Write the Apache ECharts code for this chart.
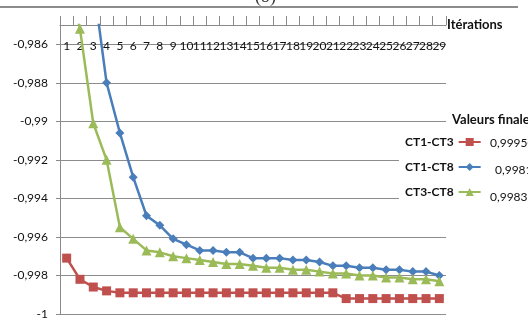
<!DOCTYPE html>
<html>
<head>
<meta charset="utf-8">
<script src="https://cdn.jsdelivr.net/npm/echarts@6/dist/echarts.min.js"></script>
<style>
html,body{margin:0;padding:0;background:#fff;}
#chart{width:528px;height:320px;}
</style>
</head>
<body>
<div id="chart"></div>
<script>
// categories (iterations)
var iterations = ['1','2','3','4','5','6','7','8','9','10','11','12','13','14','15','16','17','18','19','20','21','22','23','24','25','26','27','28','29'];

// series values
var ct1ct3 = [-0.9971, -0.9982, -0.9986, -0.9988, -0.9989, -0.9989, -0.9989, -0.9989, -0.9989, -0.9989,
              -0.9989, -0.9989, -0.9989, -0.9989, -0.9989, -0.9989, -0.9989, -0.9989, -0.9989, -0.9989,
              -0.9989, -0.9992, -0.9992, -0.9992, -0.9992, -0.9992, -0.9992, -0.9992, -0.9992];
var ct1ct8 = [-0.970, -0.978, -0.9828, -0.9880, -0.9906, -0.9929, -0.9949, -0.9954, -0.9961, -0.9964,
              -0.9967, -0.9967, -0.9968, -0.9968, -0.9971, -0.9971, -0.9971, -0.9972, -0.9972, -0.9973,
              -0.9975, -0.9975, -0.9976, -0.9976, -0.9977, -0.9977, -0.9978, -0.9978, -0.9980];
var ct3ct8 = [-0.982, -0.9852, -0.9901, -0.9920, -0.9955, -0.9961, -0.9967, -0.9968, -0.9970, -0.9971,
              -0.9972, -0.9973, -0.9974, -0.9974, -0.9975, -0.9976, -0.9976, -0.9977, -0.9977, -0.9978,
              -0.9979, -0.9979, -0.9980, -0.9980, -0.9981, -0.9981, -0.9982, -0.9982, -0.9983];

var seriesNames = ['CT1-CT3', 'CT1-CT8', 'CT3-CT8'];
var finalValues = ['0,99950', '0,9981', '0,99832'];

var FONT = "Lato,'Open Sans',sans-serif";
var colors = ['#C0504D', '#4A7EBB', '#9BBB59'];

var chart = echarts.init(document.getElementById('chart'));

function fmtY(v){
    return (Math.round(v * 1000) / 1000).toString().replace('.', ',');
}

var option = {
    animation: false,
    color: colors,
    grid: {left: 60, right: 82, top: 25, bottom: 5},
    xAxis: {
        type: 'category',
        position: 'top',
        data: iterations,
        boundaryGap: true,
        name: 'Itérations',
        nameLocation: 'end',
        nameGap: 1,
        nameTextStyle: {fontFamily: FONT, fontSize: 13, fontWeight: 'bold', color: '#111', verticalAlign: 'middle', padding: [2, 0, 0, 0]},
        axisLine: {lineStyle: {color: '#8a8a8a', width: 1}},
        axisTick: {show: true, inside: false, length: 9, alignWithLabel: false, lineStyle: {color: '#8a8a8a'}},
        axisLabel: {inside: true, margin: 15, interval: 0, fontFamily: FONT, fontSize: 12, color: '#111'},
        splitLine: {show: false}
    },
    yAxis: {
        type: 'value',
        min: -1,
        max: -0.985,
        interval: 0.002,
        axisLine: {show: true, lineStyle: {color: '#8a8a8a', width: 1}},
        axisTick: {show: true, length: 4, lineStyle: {color: '#8a8a8a'}},
        axisLabel: {showMaxLabel: false, margin: 12, fontFamily: FONT, fontSize: 12, color: '#111', formatter: fmtY},
        splitLine: {lineStyle: {color: '#8c8c8c', width: 1}}
    },
    legend: {
        orient: 'vertical',
        left: 399,
        top: 132,
        align: 'right',
        data: seriesNames,
        itemWidth: 22,
        itemHeight: 10,
        itemGap: 13,
        backgroundColor: '#fff',
        padding: [4, 60, 6, 6],
        textStyle: {fontFamily: FONT, fontSize: 12, fontWeight: 'bold', color: '#111'}
    },
    graphic: [
        {type: 'line', shape: {x1: 0, y1: 7, x2: 518, y2: 7}, style: {stroke: '#666', lineWidth: 1.5}, z: 10},
        {type: 'text', left: 255, top: -12, style: {text: '(b)', font: '18px serif', fill: '#333'}},
        {type: 'text', left: 452, top: 113, z: 20, style: {text: 'Valeurs finales', font: 'bold 13px ' + FONT, fill: '#111'}},
        {type: 'text', left: 490, top: 137, z: 20, style: {text: finalValues[0], font: '12px ' + FONT, fill: '#111'}},
        {type: 'text', left: 495, top: 164, z: 20, style: {text: finalValues[1], font: '12px ' + FONT, fill: '#111'}},
        {type: 'text', left: 490, top: 191, z: 20, style: {text: finalValues[2], font: '12px ' + FONT, fill: '#111'}}
    ],
    series: [
        {
            name: seriesNames[0], type: 'line', data: ct1ct3,
            symbol: 'rect', symbolSize: 9,
            lineStyle: {width: 2.5}, itemStyle: {color: colors[0]}
        },
        {
            name: seriesNames[1], type: 'line', data: ct1ct8,
            symbol: 'diamond', symbolSize: 9,
            lineStyle: {width: 2.5}, itemStyle: {color: colors[1]}
        },
        {
            name: seriesNames[2], type: 'line', data: ct3ct8,
            symbol: 'triangle', symbolSize: 10,
            lineStyle: {width: 2.5}, itemStyle: {color: colors[2]}
        }
    ]
};

chart.setOption(option);
</script>
</body>
</html>
